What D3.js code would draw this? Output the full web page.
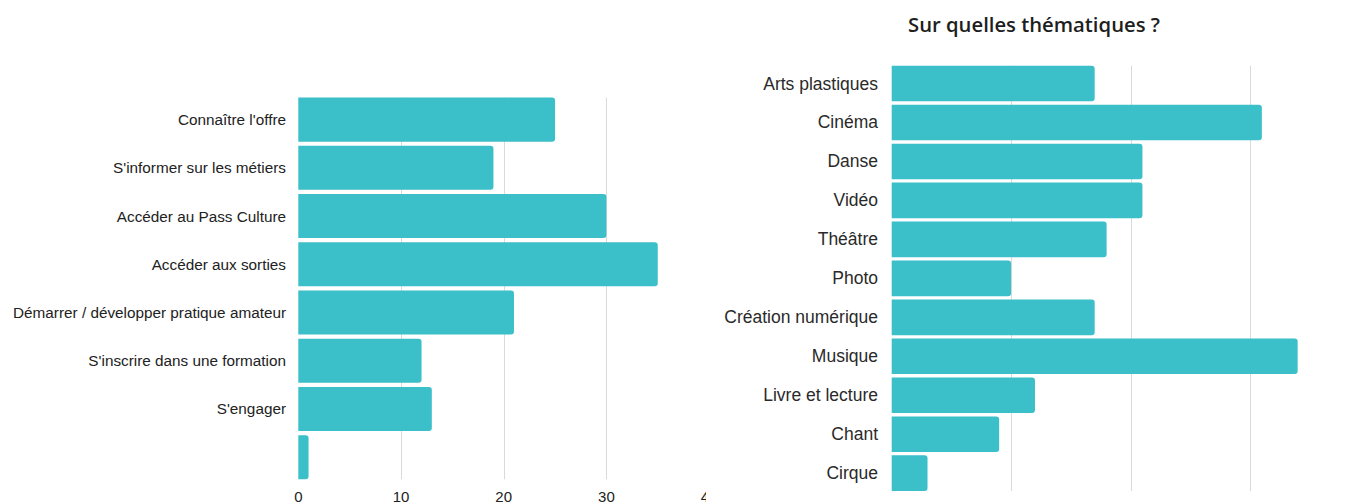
<!DOCTYPE html>
<html lang="fr">
<head>
<meta charset="UTF-8">
<script src="https://cdn.jsdelivr.net/npm/d3@7"></script>
<style>
  body { margin: 0; background: #fff; }
  svg { display: block; }
  .lbl { font-family: "Liberation Sans", Arial, sans-serif; fill: #222; }
  .grid { stroke: #dadada; stroke-width: 1; }
</style>
</head>
<body>
<script>
// left chart data
var leftCategories = ["Connaître l'offre", "S'informer sur les métiers", "Accéder au Pass Culture",
    "Accéder aux sorties", "Démarrer / développer pratique amateur", "S'inscrire dans une formation",
    "S'engager", ""];
var leftValues = [25, 19, 30, 35, 21, 12, 13, 1];
var leftTicks = [0, 10, 20, 30, 40];

// right chart data
var rightTitle = "Sur quelles thématiques ?";
var rightCategories = ["Arts plastiques", "Cinéma", "Danse", "Vidéo", "Théâtre", "Photo",
    "Création numérique", "Musique", "Livre et lecture", "Chant", "Cirque"];
var rightValues = [17, 31, 21, 21, 18, 10, 17, 34, 12, 9, 3];
var rightTicks = [10, 20, 30, 40];

var W = 1364, H = 502;
var barColor = "#3bbfc8";

var svg = d3.select("body").append("svg")
    .attr("width", W)
    .attr("height", H);

svg.append("clipPath").attr("id", "clipLeft")
    .append("rect").attr("x", 0).attr("y", 0).attr("width", 706).attr("height", H);

// bar with rounded right end only
function barPath(x0, y, w, h, r) {
    r = Math.min(r, w / 2, h / 2);
    var p = d3.path();
    p.moveTo(x0, y);
    p.lineTo(x0 + w - r, y);
    p.quadraticCurveTo(x0 + w, y, x0 + w, y + r);
    p.lineTo(x0 + w, y + h - r);
    p.quadraticCurveTo(x0 + w, y + h, x0 + w - r, y + h);
    p.lineTo(x0, y + h);
    p.closePath();
    return p.toString();
}

function drawChart(g, cats, vals, ticks, cfg) {
    var x = d3.scaleLinear().domain([0, 40]).range([cfg.x0, cfg.x1]);
    var y = d3.scaleBand().domain(d3.range(cats.length))
        .range([cfg.y0, cfg.y1]).paddingInner(0.085).paddingOuter(0);

    g.append("g").selectAll("line")
        .data(ticks.filter(function (t) { return t > 0; }))
        .enter().append("line")
        .attr("class", "grid")
        .attr("x1", function (d) { return Math.round(x(d)) + 0.5; })
        .attr("x2", function (d) { return Math.round(x(d)) + 0.5; })
        .attr("y1", cfg.y0)
        .attr("y2", cfg.y1);

    g.append("g").selectAll("path")
        .data(vals)
        .enter().append("path")
        .attr("fill", barColor)
        .attr("d", function (d, i) {
            return barPath(x(0), y(i), x(d) - x(0), y.bandwidth(), 3);
        });

    g.append("g").selectAll("text")
        .data(cats)
        .enter().append("text")
        .attr("class", "lbl")
        .attr("x", cfg.labelX)
        .attr("y", function (d, i) { return y(i) + y.bandwidth() / 2; })
        .attr("text-anchor", "end")
        .attr("dominant-baseline", "central")
        .style("font-size", cfg.fontSize + "px")
        .style("fill", cfg.labelColor)
        .text(function (d) { return d; });

    return x;
}

var left = svg.append("g").attr("clip-path", "url(#clipLeft)");
var xl = drawChart(left, leftCategories, leftValues, leftTicks,
    {x0: 298.3, x1: 709.1, y0: 97.5, y1: 479.3, labelX: 286, fontSize: 15.3, labelColor: "#222"});

left.append("g").selectAll("text")
    .data(leftTicks)
    .enter().append("text")
    .attr("class", "lbl")
    .attr("x", function (d) { return xl(d); })
    .attr("y", 501.5)
    .attr("text-anchor", "middle")
    .style("font-size", "15px")
    .style("fill", "#222")
    .text(function (d) { return d; });

var right = svg.append("g");
drawChart(right, rightCategories, rightValues, rightTicks,
    {x0: 891.7, x1: 1369.3, y0: 65.7, y1: 491, labelX: 878, fontSize: 17.5, labelColor: "#2a2a2a"});

right.append("text")
    .attr("x", 908)
    .attr("y", 32)
    .attr("textLength", 252)
    .attr("lengthAdjust", "spacingAndGlyphs")
    .style("font-family", "'Open Sans', sans-serif")
    .style("font-weight", 600)
    .style("font-size", "19px")
    .style("fill", "#1e1e1e")
    .text(rightTitle);
</script>
</body>
</html>
